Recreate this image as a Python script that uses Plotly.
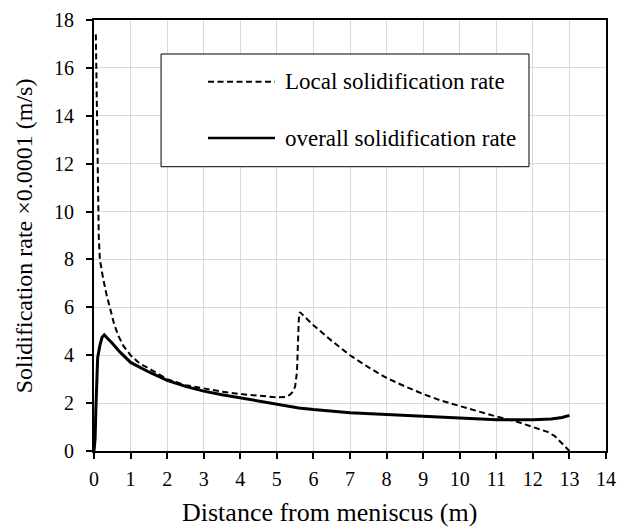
import plotly.graph_objects as go

# Local solidification rate (dashed), x in m, rate in 1e-4 m/s
local_x = [0.05, 0.07, 0.09, 0.11, 0.13, 0.16, 0.20, 0.25, 0.34, 0.44, 0.55, 0.67, 0.80,
           1.0, 1.25, 1.5, 2.0, 2.5, 3.0, 3.5, 4.0, 4.5, 5.0, 5.25, 5.36, 5.45, 5.5,
           5.55, 5.58, 5.6, 5.63, 5.8, 6.0, 6.5, 7.0, 7.5, 8.0, 8.5, 9.0, 9.5, 10.0,
           10.5, 11.0, 11.55, 12.0, 12.4, 12.6, 12.75, 12.9, 13.0]
local_y = [17.4, 15.5, 12.5, 10.2, 9.0, 8.0, 7.6, 7.2, 6.55, 6.0, 5.3, 4.8, 4.4,
           4.0, 3.65, 3.45, 3.0, 2.75, 2.6, 2.48, 2.38, 2.3, 2.24, 2.26, 2.35, 2.5, 2.7,
           3.3, 4.5, 5.5, 5.8, 5.55, 5.25, 4.6, 4.0, 3.5, 3.05, 2.7, 2.38, 2.1, 1.88,
           1.65, 1.44, 1.23, 1.0, 0.8, 0.62, 0.4, 0.18, 0.0]

# Overall solidification rate (solid)
overall_x = [0.0, 0.03, 0.05, 0.07, 0.10, 0.16, 0.22, 0.28, 0.35, 0.5, 0.7, 1.0, 1.5,
             2.0, 2.5, 3.0, 3.5, 4.0, 4.5, 5.0, 5.6, 6.0, 7.0, 8.0, 9.0, 10.0, 11.0,
             11.5, 12.0, 12.5, 12.8, 13.0]
overall_y = [0.0, 0.5, 1.7, 2.9, 3.9, 4.4, 4.75, 4.85, 4.75, 4.5, 4.15, 3.7, 3.3,
             2.95, 2.7, 2.5, 2.35, 2.22, 2.07, 1.93, 1.8, 1.73, 1.6, 1.52, 1.44, 1.36, 1.31,
             1.3, 1.3, 1.34, 1.4, 1.49]

legend_labels = ["Local solidification rate", "overall solidification rate"]
x_title = "Distance from meniscus (m)"
y_title = "Solidification rate \u00d70.0001 (m/s)"
x_ticks = list(range(0, 15))
y_ticks = list(range(0, 19, 2))

FONT = "Liberation Serif"
DASH = "6px,3.5px"

fig = go.Figure()
fig.add_trace(go.Scatter(x=local_x, y=local_y, mode="lines", name=legend_labels[0],
                         line=dict(color="black", width=2, dash=DASH),
                         showlegend=False))
fig.add_trace(go.Scatter(x=overall_x, y=overall_y, mode="lines", name=legend_labels[1],
                         line=dict(color="black", width=3),
                         showlegend=False))

# Boxed key drawn in paper coordinates
fig.add_shape(type="rect", xref="paper", yref="paper",
              x0=0.131, x1=0.8496, y0=0.6596, y1=0.9211,
              line=dict(color="black", width=1), fillcolor="white", layer="above")
rows = [0.8569, 0.7262]
styles = [dict(color="black", width=2, dash=DASH), dict(color="black", width=2.5)]
for yy, st, lab in zip(rows, styles, legend_labels):
    fig.add_shape(type="line", xref="paper", yref="paper", x0=0.2227, x1=0.3535,
                  y0=yy, y1=yy, line=st, layer="above")
    fig.add_annotation(xref="paper", yref="paper", x=0.3686, y=yy, text=lab,
                       showarrow=False, xanchor="left", yanchor="middle",
                       font=dict(family=FONT, size=23, color="black"))

# Axis titles
fig.add_annotation(xref="paper", yref="paper", x=0.459, y=-0.142, text=x_title,
                   showarrow=False, xanchor="center", yanchor="middle",
                   font=dict(family=FONT, size=26, color="black"))
fig.add_annotation(xref="paper", yref="paper", x=-0.137, y=0.5, text=y_title,
                   showarrow=False, xanchor="center", yanchor="middle", textangle=-90,
                   font=dict(family=FONT, size=24, color="black"))

axis_common = dict(showline=True, linecolor="black", linewidth=1.8, mirror=True,
                   showgrid=True, gridcolor="#d9d9d9", gridwidth=1,
                   ticks="outside", ticklen=6, tickwidth=1.5, tickcolor="black",
                   zeroline=False, tickfont=dict(family=FONT, size=20, color="black"))

fig.update_xaxes(range=[0, 14], tickvals=x_ticks, ticklabelstandoff=3, **axis_common)
fig.update_yaxes(range=[0, 18], tickvals=y_ticks, ticklabelstandoff=8, **axis_common)

fig.update_layout(width=630, height=529, plot_bgcolor="white", paper_bgcolor="white",
                  margin=dict(l=94, r=24, t=20, b=78, autoexpand=False),
                  font=dict(family=FONT, color="black"))

fig.write_html("out.html")
